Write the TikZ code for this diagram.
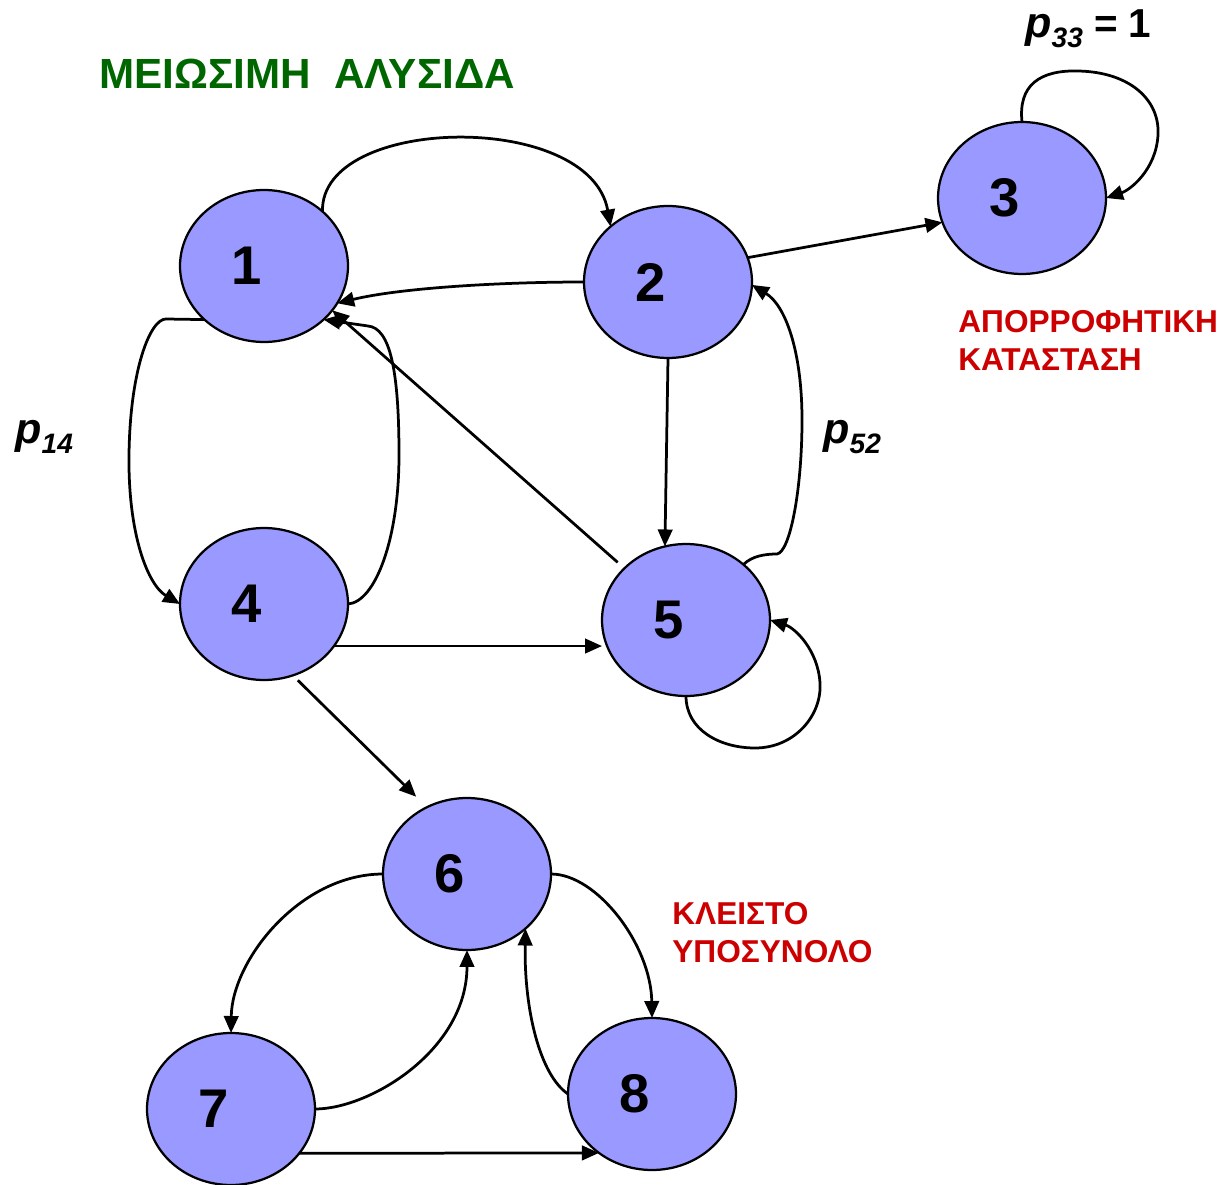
\documentclass[tikz,border=0pt]{standalone}
\usepackage{fontspec}
\setmainfont{Liberation Sans}
\usetikzlibrary{arrows.meta,shapes.geometric}
\definecolor{nodefill}{HTML}{9999FF}
\definecolor{redtxt}{HTML}{CC0000}
\definecolor{greentxt}{HTML}{006600}
\begin{document}
\begin{tikzpicture}[x=0.02cm,y=-0.02cm,
  state/.style={ellipse,draw=black,line width=0.045cm,fill=nodefill,
    minimum width=3.36cm,minimum height=3.04cm,inner sep=0pt,outer sep=0pt,
    font=\fontsize{31}{36}\selectfont\bfseries},
  edge/.style={line width=0.055cm,-{Triangle[length=0.34cm,width=0.29cm]}},
  redlbl/.style={anchor=base west,inner sep=0pt,text=redtxt,
    font=\fontsize{18}{21.6}\selectfont\bfseries},
  plbl/.style={anchor=base west,inner sep=0pt,
    font=\fontsize{24.5}{28}\selectfont\bfseries\itshape}]
\useasboundingbox (0,0) rectangle (1226,1185);

% states
\node[state] (n1) at (264,266) {1\kern0.68cm};
\node[state] (n2) at (668,282) {2\kern0.68cm};
\node[state] (n3) at (1022,198) {3\kern0.68cm};
\node[state] (n4) at (264,604) {4\kern0.68cm};
\node[state] (n5) at (686,620) {5\kern0.68cm};
\node[state] (n6) at (467,874) {6\kern0.68cm};
\node[state] (n7) at (231,1109) {7\kern0.68cm};
\node[state] (n8) at (652,1094) {8\kern0.68cm};

% texts
\node[anchor=base west,inner sep=0pt,text=greentxt,
  font=\fontsize{24}{28}\selectfont\bfseries] (title) at (99,89) {ΜΕΙΩΣΙΜΗ\ \ ΑΛΥΣΙΔΑ};
\node[redlbl] (abs1) at (958,333) {ΑΠΟΡΡΟΦΗΤΙΚΗ};
\node[redlbl] (abs2) at (958,371) {ΚΑΤΑΣΤΑΣΗ};
\node[redlbl] (cl1) at (672,924) {ΚΛΕΙΣΤΟ};
\node[redlbl] (cl2) at (672,962) {ΥΠΟΣΥΝΟΛΟ};
\node[plbl] (p14) at (15,443) {p\raisebox{-2.2mm}{\fontsize{16}{18}\selectfont 14}};
\node[plbl] (p52) at (823,443) {p\raisebox{-2.2mm}{\fontsize{16}{18}\selectfont 52}};
\node[plbl] (p33) at (1025,38) {p\raisebox{-2mm}{\fontsize{16}{18}\selectfont 33}\fontsize{23}{26}\selectfont\upshape\ = 1};

% connectors
\draw[edge] (n1.43) .. controls (320,115) and (590,110) .. (n2.136);
\draw[edge] (n2.180) .. controls (500,282) and (400,288) .. (n1.-27);
\draw[edge] (n2.17) -- (n3.197);
\draw[edge] (n3.90) .. controls (1018,85) and (1040,70) .. (1078,71)
  .. controls (1130,72) and (1160,100) .. (1158,135)
  .. controls (1156,170) and (1130,190) .. (n3.0);
\draw[edge] (n1.222) -- (166,319) .. controls (150,319) and (130,370) .. (129,455)
  .. controls (128,535) and (148,585) .. (n4.180);
\draw[edge] (n4.0) .. controls (375,602) and (399,540) .. (399,455)
  .. controls (399,370) and (390,328) .. (368,326) -- (n1.-42);
\draw[edge,shorten <=0.18cm] (n5.140) -- (n1.-33);
\draw[edge] (n2.-90) -- (n5.106);
\draw[edge] (n5.44) .. controls (752,556) and (765,554) .. (777,554)
  .. controls (790,552) and (802,490) .. (802,420)
  .. controls (802,350) and (785,305) .. (n2.-2);
\draw[edge] (n5.-90) .. controls (686,730) and (720,748) .. (755,748)
  .. controls (795,748) and (822,715) .. (820,683)
  .. controls (818,650) and (795,628) .. (n5.0);
\draw[edge] (n4.329) -- (n5.west |- n4.329);
\draw[edge,shorten <=0.14cm,shorten >=0.3cm] (n4.292) -- (n6.121);
\draw[edge] (n6.180) .. controls (300,874) and (232,960) .. (n7.90);
\draw[edge] (n7.0) .. controls (370,1109) and (467,1050) .. (n6.-90);
\draw[edge] (n6.0) .. controls (597,874) and (651,945) .. (n8.90);
\draw[edge] (n8.180) .. controls (540,1075) and (524,1010) .. (n6.-43);
\draw[edge] (n7.-33) -- (n8.228);
\end{tikzpicture}
\end{document}
